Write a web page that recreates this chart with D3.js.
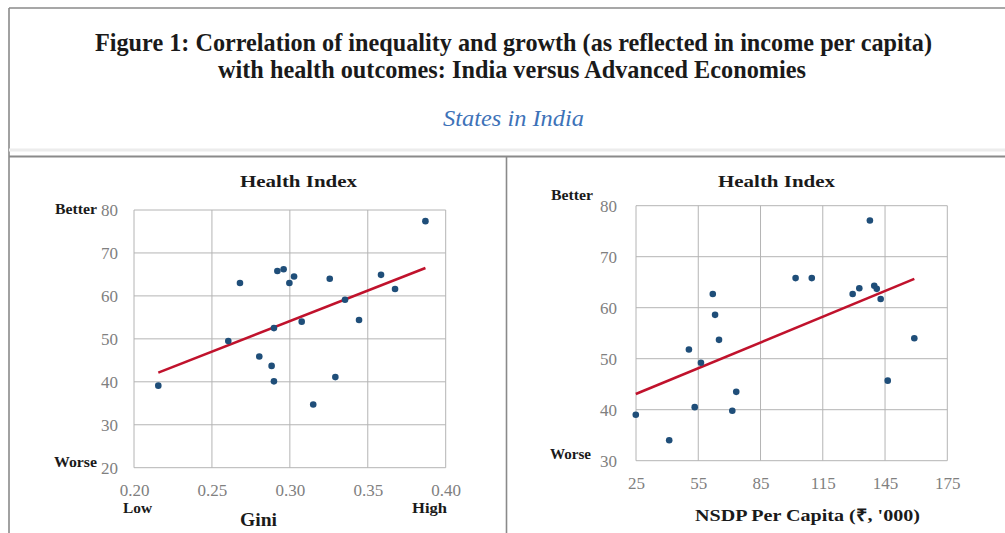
<!DOCTYPE html>
<html>
<head>
<meta charset="utf-8">
<script src="https://cdn.jsdelivr.net/npm/d3@7"></script>
<style>
  html, body { margin: 0; padding: 0; background: #fff; }
  svg { display: block; }
  svg text { font-family: "Liberation Serif", "Times New Roman", Times, serif; }
</style>
</head>
<body>
<svg id="fig" width="1005" height="533"></svg>
<script>
// ---- Data: state-level health index against inequality and income ----
const giniValues = [0.387, 0.268, 0.292, 0.296, 0.3027, 0.2997, 0.3256, 0.3585, 0.3675, 0.3354,
                    0.3444, 0.3076, 0.2898, 0.2605, 0.2804, 0.2883, 0.2898, 0.3292, 0.315, 0.2156];
const healthByGini = [77.4, 63.0, 65.8, 66.2, 64.5, 63.0, 64.0, 64.9, 61.6, 59.1,
                      54.4, 54.0, 52.5, 49.5, 45.9, 43.7, 40.1, 41.1, 34.7, 39.1];

const nsdpValues = [137.7, 101.9, 109.7, 129.4, 132.6, 139.8, 141.0, 142.9, 159.1, 62.0,
                    63.1, 65.0, 50.5, 56.3, 73.3, 53.3, 71.4, 24.9, 41.0, 146.3];
const healthByNsdp = [77.1, 65.8, 65.8, 62.7, 63.8, 64.3, 63.7, 61.7, 54.0, 62.7,
                      58.6, 53.7, 51.8, 49.2, 43.5, 40.5, 39.8, 39.0, 34.0, 45.7];

const giniTicks = [0.20, 0.25, 0.30, 0.35, 0.40];
const giniHealthTicks = [20, 30, 40, 50, 60, 70, 80];
const nsdpTicks = [25, 55, 85, 115, 145, 175];
const nsdpHealthTicks = [30, 40, 50, 60, 70, 80];

const titleLines = [
  "Figure 1: Correlation of inequality and growth (as reflected in income per capita)",
  "with health outcomes: India versus Advanced Economies"
];
const subtitle = "States in India";

// ---- Styling ----
const GRID = "#b4b4b4";
const DOT = "#1f4e79";
const TREND = "#c0122c";
const TICK_TEXT = "#808080";

const svg = d3.select("#fig");

// Outer frame and panel dividers
const frame = svg.append("g").attr("stroke", "#8a8a8a").attr("fill", "none");
frame.append("line").attr("x1", 9).attr("y1", 8).attr("x2", 1005).attr("y2", 8).attr("stroke-width", 1.6);
frame.append("line").attr("x1", 9).attr("y1", 8).attr("x2", 9).attr("y2", 533).attr("stroke-width", 1.6);
frame.append("line").attr("x1", 9).attr("y1", 150).attr("x2", 1005).attr("y2", 150)
  .attr("stroke", "#ececec").attr("stroke-width", 3);
frame.append("line").attr("x1", 9).attr("y1", 156.5).attr("x2", 1005).attr("y2", 156.5).attr("stroke-width", 1.8);
frame.append("line").attr("x1", 506.5).attr("y1", 156.5).attr("x2", 506.5).attr("y2", 533).attr("stroke-width", 1.6);

// Figure title
const titleSpecs = [
  { text: titleLines[0], x: 95, width: 837, y: 51 },
  { text: titleLines[1], x: 218, width: 588, y: 78 }
];
svg.selectAll("text.title").data(titleSpecs).join("text")
  .attr("class", "title")
  .attr("x", d => d.x).attr("y", d => d.y)
  .attr("textLength", d => d.width).attr("lengthAdjust", "spacingAndGlyphs")
  .style("font-weight", "bold").style("font-size", "25px")
  .attr("fill", "#1a1a1a")
  .text(d => d.text);

svg.append("text")
  .attr("x", 443).attr("y", 126)
  .attr("textLength", 141).attr("lengthAdjust", "spacingAndGlyphs")
  .style("font-style", "italic").style("font-size", "24px")
  .attr("fill", "#3d72b8")
  .text(subtitle);

// Least-squares trend line for a series
function fitLine(xs, ys) {
  const mx = d3.mean(xs), my = d3.mean(ys);
  const sxy = d3.sum(xs, (x, i) => (x - mx) * (ys[i] - my));
  const sxx = d3.sum(xs, x => (x - mx) * (x - mx));
  const slope = sxy / sxx;
  return x => my + slope * (x - mx);
}

function label(g, text, x, y, opts) {
  const t = g.append("text")
    .attr("x", x).attr("y", y)
    .style("font-weight", opts.weight || "bold")
    .style("font-size", opts.size + "px")
    .attr("fill", opts.fill || "#1a1a1a")
    .attr("text-anchor", opts.anchor || "start")
    .text(text);
  if (opts.width) t.attr("textLength", opts.width).attr("lengthAdjust", "spacingAndGlyphs");
  return t;
}

function scatterPanel(cfg) {
  const g = svg.append("g");
  const x = d3.scaleLinear().domain(cfg.xDomain).range(cfg.xRange);
  const y = d3.scaleLinear().domain(cfg.yDomain).range(cfg.yRange);

  // Gridlines (outermost ones form the plot frame)
  g.append("g").selectAll("line").data(cfg.yTicks).join("line")
    .attr("x1", cfg.xRange[0]).attr("x2", cfg.xRange[1])
    .attr("y1", d => y(d)).attr("y2", d => y(d))
    .attr("stroke", GRID).attr("stroke-width", 1);
  g.append("g").selectAll("line").data(cfg.xTicks).join("line")
    .attr("x1", d => x(d)).attr("x2", d => x(d))
    .attr("y1", cfg.yRange[0]).attr("y2", cfg.yRange[1])
    .attr("stroke", GRID).attr("stroke-width", 1);

  // Axes: tick labels only
  const xAxis = g.append("g").attr("transform", `translate(0,${cfg.yRange[0]})`)
    .call(d3.axisBottom(x).tickValues(cfg.xTicks).tickFormat(cfg.xFormat).tickSize(0).tickPadding(cfg.xPad));
  const yAxis = g.append("g").attr("transform", `translate(${cfg.xRange[0]},0)`)
    .call(d3.axisLeft(y).tickValues(cfg.yTicks).tickFormat(d3.format("d")).tickSize(0).tickPadding(cfg.yPad));
  [xAxis, yAxis].forEach(a => {
    a.select(".domain").remove();
    a.attr("font-family", null);
    a.selectAll("text").style("font-size", "17px").attr("fill", TICK_TEXT);
  });

  // Trend line across the observed range
  const f = fitLine(cfg.xs, cfg.ys);
  const ext = d3.extent(cfg.xs);
  g.append("line")
    .attr("x1", x(ext[0])).attr("y1", y(f(ext[0])))
    .attr("x2", x(ext[1])).attr("y2", y(f(ext[1])))
    .attr("stroke", TREND).attr("stroke-width", 2.6);

  // Points
  g.append("g").selectAll("circle").data(cfg.xs.map((v, i) => [v, cfg.ys[i]])).join("circle")
    .attr("cx", d => x(d[0])).attr("cy", d => y(d[1]))
    .attr("r", 3.3).attr("fill", DOT);

  return g;
}

// Left panel: Health Index vs Gini
const left = scatterPanel({
  xs: giniValues, ys: healthByGini,
  xDomain: [0.20, 0.40], xRange: [134, 445.7],
  yDomain: [20, 80], yRange: [467.7, 210],
  xTicks: giniTicks, yTicks: giniHealthTicks,
  xFormat: d3.format(".2f"), xPad: 16, yPad: 16
});
label(left, "Health Index", 240, 187, { size: 17, width: 117 });
label(left, "Better", 55, 214, { size: 14, width: 42 });
label(left, "Worse", 54, 467, { size: 14, width: 43 });
label(left, "Low", 123, 513, { size: 14, width: 29 });
label(left, "High", 412, 513, { size: 14, width: 35 });
label(left, "Gini", 240, 526, { size: 18, width: 37 });

// Right panel: Health Index vs NSDP per capita
const right = scatterPanel({
  xs: nsdpValues, ys: healthByNsdp,
  xDomain: [25, 175], xRange: [636, 947.3],
  yDomain: [30, 80], yRange: [460.7, 205.7],
  xTicks: nsdpTicks, yTicks: nsdpHealthTicks,
  xFormat: d3.format("d"), xPad: 16, yPad: 19
});
label(right, "Health Index", 718, 187, { size: 17, width: 117 });
label(right, "Better", 551, 200, { size: 14, width: 42 });
label(right, "Worse", 550, 459, { size: 14, width: 41 });
label(right, "NSDP Per Capita (₹, '000)", 695, 521, { size: 17, width: 225 });
</script>
</body>
</html>
